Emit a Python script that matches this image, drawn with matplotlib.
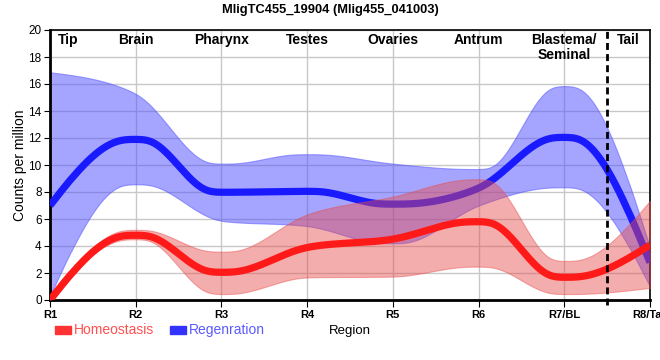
import numpy as np
import matplotlib.pyplot as plt
from matplotlib.patches import Rectangle

plt.rcParams['font.family'] = ['Liberation Sans', 'DejaVu Sans']

regions = ['R1', 'R2', 'R3', 'R4', 'R5', 'R6', 'R7/BL', 'R8/Tail']
tissues = ['Tip', 'Brain', 'Pharynx', 'Testes', 'Ovaries', 'Antrum', 'Blastema/\nSeminal', 'Tail']
tissue_pos = [0.21, 1, 2, 3, 4, 5, 6, 6.75]

homeo = [0.0, 4.8, 2.05, 3.9, 4.5, 5.8, 1.68, 4.07]
homeo_hi = [0.0, 5.2, 3.58, 6.35, 7.65, 8.94, 2.89, 7.35]
homeo_lo = [0.0, 4.5, 0.44, 1.68, 1.73, 2.47, 0.44, 0.9]

regen = [7.0, 11.9, 7.98, 8.05, 7.1, 8.27, 12.05, 2.78]
regen_hi = [16.87, 15.3, 10.1, 10.8, 10.1, 9.7, 15.85, 3.9]
regen_lo = [0.3, 8.57, 5.85, 5.48, 4.2, 7.0, 8.35, 1.0]


def monotone(x, y, n=60):
    # monotone cubic, same rule as d3.curveMonotoneX
    x = np.asarray(x, float)
    y = np.asarray(y, float)
    h = np.diff(x)
    s = np.diff(y) / h
    m = np.zeros(len(x))
    for i in range(1, len(x) - 1):
        s0, s1 = s[i - 1], s[i]
        p = (s0 * h[i] + s1 * h[i - 1]) / (h[i - 1] + h[i])
        sg = (1 if s0 > 0 else -1) + (1 if s1 > 0 else -1)
        m[i] = sg * min(abs(s0), abs(s1), 0.5 * abs(p))
    m[0] = (3 * s[0] - m[1]) / 2
    m[-1] = (3 * s[-1] - m[-2]) / 2
    xs, ys = [], []
    for i in range(len(x) - 1):
        t = np.linspace(0, 1, n)
        h00 = 2 * t**3 - 3 * t**2 + 1
        h10 = t**3 - 2 * t**2 + t
        h01 = -2 * t**3 + 3 * t**2
        h11 = t**3 - t**2
        xs.append(x[i] + t * h[i])
        ys.append(h00 * y[i] + h10 * h[i] * m[i] + h01 * y[i + 1] + h11 * h[i] * m[i + 1])
    return np.concatenate(xs), np.concatenate(ys)


def smooth(y, w=0.1):
    # small flat shoulders around local peaks / dips, then monotone curve
    xs, ys = [0.0], [y[0]]
    for i in range(1, len(y) - 1):
        if (y[i] - y[i - 1]) * (y[i + 1] - y[i]) <= 0:
            xs += [i - w, i, i + w]
            ys += [y[i]] * 3
        else:
            xs.append(i)
            ys.append(y[i])
    xs.append(len(y) - 1)
    ys.append(y[-1])
    xx, yy = monotone(xs, ys)
    grid = np.linspace(0, len(y) - 1, 700)
    yy = np.interp(grid, xx, yy)
    # round off the corners a little
    k = np.exp(-0.5 * (np.arange(-20, 21) / 7.0) ** 2)
    k /= k.sum()
    pad = np.concatenate([np.full(20, yy[0]), yy, np.full(20, yy[-1])])
    sm = np.convolve(pad, k, mode='same')[20:-20]
    sm[:25] = yy[:25]
    sm[-25:] = yy[-25:]
    return grid, sm


xi = np.arange(len(regions))

fig = plt.figure(figsize=(6.6, 3.6), dpi=100)
ax = fig.add_axes([50 / 660, 60 / 360, 600 / 660, 270 / 360])

# regeneration
gx, hi = smooth(regen_hi)
_, lo = smooth(regen_lo)
ax.fill_between(gx, lo, hi, color='#4d4dff', alpha=0.5, lw=0.8, zorder=2)
gx, yy = smooth(regen)
ax.plot(gx, yy, color='#1a1aff', lw=5.2, solid_capstyle='butt', zorder=3)

# homeostasis
gx, hi = smooth(homeo_hi)
_, lo = smooth(homeo_lo)
ax.fill_between(gx, lo, hi, color='#e84a4a', alpha=0.45, lw=0.8, zorder=4)
gx, yy = smooth(homeo)
ax.plot(gx, yy, color='#ff1a1a', lw=5.2, solid_capstyle='butt', zorder=5)

ax.plot([6.5, 6.5], [-0.4, 20], color='black', lw=2, ls=(0, (2.5, 1.5)),
        clip_on=False, zorder=6)

ax.set_xlim(0, 7)
ax.set_ylim(0, 20)
ax.set_xticks(xi)
ax.set_xticklabels(regions, fontsize=8, fontweight='bold')
ax.set_yticks(np.arange(0, 21, 2))
ax.tick_params(axis='y', labelsize=8.5, length=4, pad=2)
ax.tick_params(axis='x', length=5, pad=2)
ax.grid(True, color='#c8c8c8', lw=1, zorder=0)
ax.set_axisbelow(True)
for sp in ['left', 'bottom']:
    ax.spines[sp].set_linewidth(2)
for sp in ['top', 'right']:
    ax.spines[sp].set_linewidth(1.2)

for t, p in zip(tissues, tissue_pos):
    ax.text(p, 19.75, t, ha='center', va='top', fontsize=10, fontweight='bold',
            linespacing=1.05, zorder=7)

fig.text(20 / 660, 1 - 165 / 360, 'Counts per million', rotation=90, ha='center',
         va='center', fontsize=10)
fig.text(350 / 660, 1 - 331 / 360, 'Region', ha='center', va='center', fontsize=9.5)
fig.text(0.5, 1 - 10 / 360, 'MligTC455_19904 (Mlig455_041003)', ha='center', va='center',
         fontsize=9.3, fontweight='bold')

# legend
fig.patches.append(Rectangle((55 / 660, 1 - 334 / 360), 16 / 660, 8 / 360,
                             transform=fig.transFigure, color='#ff3333'))
fig.text(74 / 660, 1 - 330 / 360, 'Homeostasis', color='#ff5050', fontsize=10, va='center')
fig.patches.append(Rectangle((170 / 660, 1 - 334 / 360), 16 / 660, 8 / 360,
                             transform=fig.transFigure, color='#3333ff'))
fig.text(189 / 660, 1 - 330 / 360, 'Regenration', color='#5a5aff', fontsize=10, va='center')

fig.savefig('out.png', dpi=100)
